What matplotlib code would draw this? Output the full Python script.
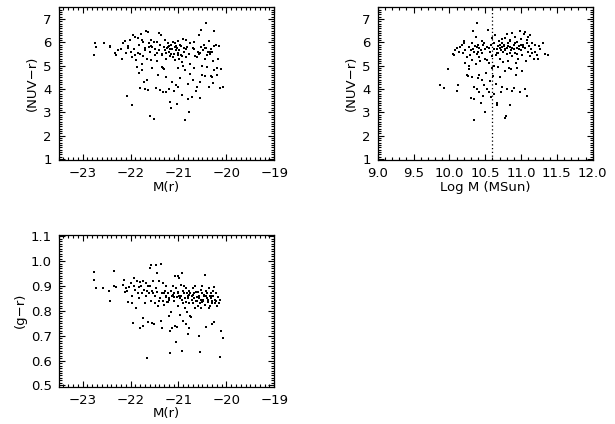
import numpy as np
import matplotlib
matplotlib.use("Agg")
import matplotlib.pyplot as plt
from matplotlib.ticker import AutoMinorLocator, FormatStrFormatter

# ── Panel 1: (NUV-r) vs M(r) ─────────────────────────────────────────────────
mr_nuv = [
    -22.77, -22.75, -22.72, -22.55, -22.43, -22.42, -22.33, -22.30, -22.27,
    -22.20, -22.18, -22.15, -22.12, -22.10, -22.08, -22.05, -22.02, -22.00, -21.97, -21.98,
    -21.95, -21.93, -21.90, -21.88, -21.86, -21.85, -21.83, -21.82, -21.80, -21.80,
    -21.78, -21.77, -21.75, -21.76, -21.77,
    -21.73, -21.72, -21.70, -21.70, -21.68, -21.66, -21.65, -21.64, -21.63, -21.62,
    -21.60, -21.60, -21.58, -21.57, -21.55, -21.55, -21.52, -21.52, -21.50,
    -21.48, -21.47, -21.45, -21.44, -21.42, -21.40, -21.40, -21.38, -21.36, -21.35,
    -21.34, -21.33, -21.32, -21.30, -21.30, -21.28, -21.27, -21.26, -21.25,
    -21.23, -21.22, -21.20, -21.20, -21.19, -21.18, -21.17, -21.16, -21.15, -21.14,
    -21.13, -21.12, -21.10, -21.10, -21.08, -21.07, -21.06, -21.05, -21.04, -21.03,
    -21.02, -21.00, -21.00, -21.01,
    -20.98, -20.97, -20.96, -20.95, -20.93, -20.92, -20.90, -20.90, -20.88, -20.87,
    -20.86, -20.85, -20.84, -20.82, -20.80, -20.80, -20.78, -20.77, -20.76, -20.75, -20.75,
    -20.72, -20.70, -20.70, -20.68, -20.67, -20.65, -20.63, -20.62, -20.60, -20.58,
    -20.57, -20.55, -20.55, -20.53, -20.52, -20.50, -20.50,
    -20.48, -20.47, -20.45, -20.44, -20.43, -20.42, -20.40, -20.38, -20.37, -20.36,
    -20.35, -20.33, -20.32, -20.30, -20.28, -20.27, -20.26, -20.25, -20.25,
    -20.22, -20.20, -20.18, -20.15, -20.13, -20.12, -20.08, -20.20,
    -21.18, -21.12, -21.05, -20.98, -20.92, -20.88, -21.15, -21.08, -20.95, -21.25,
    -21.22, -21.02, -20.85, -20.62, -20.55, -20.45, -20.40, -20.35, -21.90, -21.70,
    -21.62, -21.45, -21.38, -21.28, -22.05, -21.85, -21.58, -21.35, -20.68, -20.30,
]
nuv_r1 = [
    5.45, 5.97, 5.80, 5.97, 5.85, 5.78, 5.55, 5.45, 5.65,
    5.70, 5.30, 5.95, 6.05, 5.55, 3.70, 5.85, 6.10, 5.60, 3.30, 5.35,
    6.30, 5.70, 6.25, 5.25, 4.95, 6.20, 4.70, 5.90, 5.50, 4.05,
    6.35, 6.10, 5.40, 5.05, 4.80,
    6.00, 4.30, 4.00, 5.75, 6.50, 5.30, 4.40, 3.95, 6.45, 5.95,
    2.85, 5.60, 6.10, 5.25, 5.80, 4.90, 2.70, 6.00, 5.45,
    5.70, 4.05, 6.00, 5.20, 4.60, 6.40, 5.65, 3.95, 6.30, 4.95,
    5.45, 3.85, 4.90, 5.80, 4.85, 6.10, 3.85, 5.30, 4.50,
    5.75, 5.95, 5.60, 4.00, 5.85, 3.45, 5.40, 3.20, 5.90, 5.70,
    4.30, 6.00, 5.50, 3.90, 5.80, 5.95, 4.15, 5.65, 3.35, 5.75,
    4.90, 5.55, 4.10, 6.05,
    5.30, 5.90, 4.45, 5.45, 5.15, 3.75, 6.15, 5.00, 5.60, 2.65,
    4.80, 5.35, 6.10, 5.80, 4.20, 3.55, 5.50, 3.00, 5.05, 4.65, 5.95,
    3.65, 5.75, 4.40, 6.00, 4.90, 5.40, 3.90, 4.10, 5.60, 6.30,
    5.50, 4.30, 3.60, 5.80, 6.55, 5.00, 4.60,
    5.65, 5.90, 5.30, 4.55, 6.85, 5.75, 4.95, 5.60, 4.10, 6.05,
    5.50, 4.55, 5.70, 4.50, 5.20, 4.25, 6.50, 5.85, 4.80,
    5.90, 4.90, 5.30, 5.85, 4.05, 4.85, 4.10, 4.60,
    5.70, 5.35, 5.85, 5.65, 5.40, 5.75, 5.50, 5.25, 5.85, 5.55,
    5.80, 5.45, 5.70, 5.35, 5.55, 5.75, 5.45, 5.60, 5.45, 5.65,
    5.80, 5.55, 5.90, 5.65, 5.75, 5.55, 5.85, 5.50, 5.70, 5.60,
]

# ── Panel 2: (NUV-r) vs Log M ────────────────────────────────────────────────
logm = [
    9.87, 9.93, 9.98, 10.05, 10.06, 10.08, 10.10, 10.10, 10.12, 10.13, 10.15, 10.17,
    10.20, 10.20, 10.19, 10.22, 10.24, 10.25, 10.26, 10.27, 10.28, 10.30, 10.30, 10.31,
    10.32, 10.33, 10.33, 10.34, 10.35, 10.35, 10.36, 10.37, 10.37, 10.38, 10.38, 10.39,
    10.40, 10.40, 10.41, 10.42, 10.42, 10.43, 10.44, 10.45, 10.45, 10.46, 10.47, 10.48,
    10.49, 10.50, 10.50, 10.51, 10.52, 10.53, 10.54, 10.55, 10.56, 10.57, 10.57, 10.58,
    10.58, 10.59, 10.60, 10.60, 10.61, 10.62, 10.63, 10.63, 10.64, 10.65, 10.66, 10.66,
    10.67, 10.68, 10.68, 10.69, 10.70, 10.70, 10.71, 10.72, 10.73, 10.73, 10.74, 10.75,
    10.75, 10.76, 10.77, 10.77, 10.78, 10.78, 10.79, 10.80, 10.80, 10.81, 10.82, 10.82,
    10.83, 10.84, 10.84, 10.85, 10.86, 10.86, 10.87, 10.88, 10.88, 10.90, 10.90, 10.91,
    10.92, 10.93, 10.93, 10.94, 10.95, 10.95, 10.96, 10.97, 10.98, 10.99, 11.00, 11.00,
    11.01, 11.02, 11.03, 11.04, 11.05, 11.05, 11.06, 11.07, 11.08, 11.08, 11.09, 11.10,
    11.10, 11.11, 11.12, 11.13, 11.14, 11.15, 11.16, 11.18, 11.20, 11.20, 11.22, 11.24,
    11.25, 11.27, 11.30, 11.33, 11.38,
    10.22, 10.27, 10.29, 10.32, 10.35, 10.38, 10.41, 10.44, 10.47, 10.50, 10.52, 10.55,
    10.62, 10.65, 10.70, 10.72, 10.80, 10.85, 10.90, 10.95, 11.00,
    10.74, 10.78, 10.82, 10.88, 10.92, 10.97, 11.03, 10.68, 10.76, 10.84, 10.66, 10.40,
]
nuv_r2 = [
    4.15, 4.05, 4.85, 5.50, 5.45, 5.65, 3.90, 5.75, 4.15, 5.60, 5.80, 5.90,
    5.95, 6.05, 5.55, 5.10, 4.60, 5.35, 4.55, 5.00, 4.85, 5.65, 3.60, 5.25,
    4.50, 5.70, 6.50, 4.10, 2.65, 3.55, 5.85, 5.05, 6.25, 4.00, 5.50, 6.85,
    4.45, 5.90, 3.85, 5.75, 4.60, 5.20, 3.40, 6.05, 4.40, 5.55, 3.70, 5.95,
    4.15, 5.30, 3.00, 4.70, 5.80, 4.00, 6.55, 5.10, 3.85, 5.60, 4.35, 5.90,
    3.65, 4.90, 5.40, 6.20, 4.55, 3.80, 5.70, 5.00, 6.30, 4.20, 5.55, 3.30,
    3.40, 5.85, 4.95, 6.05, 5.30, 4.50, 5.75, 3.85, 5.95, 4.10, 6.15, 5.60,
    5.15, 5.85, 4.75, 2.75, 6.20, 5.70, 2.85, 5.50, 6.35, 4.00, 5.95, 5.20,
    4.90, 3.30, 5.80, 6.10, 4.85, 5.65, 6.40, 5.40, 3.90, 5.90, 4.05, 6.25,
    5.55, 5.10, 4.60, 5.75, 6.00, 4.90, 5.30, 5.85, 6.50, 3.85, 5.65, 6.15,
    4.75, 5.45, 5.90, 6.35, 4.00, 5.75, 6.45, 5.20, 5.95, 3.70, 6.10, 5.60,
    6.25, 5.85, 5.40, 6.30, 5.70, 5.55, 5.95, 5.30, 5.60, 5.90, 5.45, 5.30,
    5.85, 5.70, 5.95, 5.50, 5.45,
    5.65, 5.80, 5.45, 5.95, 5.60, 5.80, 5.35, 5.65, 5.90, 5.70, 5.25, 5.75,
    5.95, 5.45, 5.90, 5.65, 5.75, 5.55, 5.70, 5.50, 5.90,
    5.80, 5.65, 5.85, 5.75, 5.95, 5.70, 5.80, 5.55, 5.90, 6.05, 5.70, 5.60,
]

# ── Panel 3: (g-r) vs M(r) ───────────────────────────────────────────────────
mr_gr = [
    -22.77, -22.77, -22.72, -22.57, -22.44, -22.43, -22.35, -22.35, -22.30,
    -22.15, -22.13, -22.12, -22.10, -22.08, -22.05, -22.03, -22.00, -21.98, -21.96, -21.95,
    -21.93, -21.92, -21.90, -21.88, -21.87, -21.85, -21.83, -21.82, -21.80, -21.80,
    -21.78, -21.77, -21.75, -21.74, -21.73, -21.72, -21.70, -21.68, -21.67, -21.65,
    -21.64, -21.63, -21.62, -21.60, -21.60, -21.58, -21.57, -21.56, -21.55, -21.53,
    -21.52, -21.50, -21.48, -21.47, -21.46, -21.45, -21.44, -21.42, -21.40, -21.38,
    -21.37, -21.36, -21.35, -21.34, -21.33, -21.32, -21.30, -21.28, -21.27, -21.25,
    -21.24, -21.22, -21.20, -21.20, -21.18, -21.17, -21.16, -21.15, -21.14, -21.13,
    -21.12, -21.10, -21.10, -21.08, -21.07, -21.06, -21.05, -21.04, -21.03, -21.02,
    -21.00, -21.00, -20.98, -20.97, -20.96, -20.95, -20.94, -20.93, -20.92, -20.91,
    -20.90, -20.90, -20.88, -20.87, -20.86, -20.85, -20.84, -20.83, -20.82, -20.80,
    -20.80, -20.79, -20.78, -20.77, -20.76, -20.75, -20.74, -20.72, -20.70, -20.70,
    -20.68, -20.67, -20.66, -20.65, -20.63, -20.62, -20.60, -20.60, -20.58, -20.57,
    -20.56, -20.55, -20.54, -20.53, -20.52, -20.50, -20.50, -20.48, -20.47, -20.45,
    -20.44, -20.43, -20.42, -20.41, -20.40, -20.38, -20.37, -20.36, -20.35, -20.34,
    -20.33, -20.32, -20.30, -20.30, -20.28, -20.27, -20.26, -20.25, -20.24, -20.22,
    -20.20, -20.18, -20.16, -20.14, -20.13, -20.12, -20.08,
    -21.26, -21.19, -21.11, -21.01, -20.93, -20.85, -20.78, -20.71, -20.64, -20.58,
    -20.51, -20.46, -20.39, -20.31, -20.23, -21.41, -21.31, -21.21, -20.99, -20.89,
    -20.69, -20.61, -20.49, -20.43, -20.29, -20.21, -21.09, -20.81, -21.54, -21.66,
]
g_r = [
    0.955, 0.925, 0.890, 0.890, 0.880, 0.840, 0.960, 0.900, 0.895,
    0.905, 0.925, 0.875, 0.890, 0.880, 0.835, 0.895, 0.910, 0.860, 0.830, 0.750,
    0.930, 0.900, 0.885, 0.810, 0.920, 0.870, 0.895, 0.850, 0.915, 0.730,
    0.900, 0.870, 0.740, 0.920, 0.770, 0.885, 0.830, 0.910, 0.860, 0.610,
    0.900, 0.755, 0.870, 0.970, 0.900, 0.840, 0.985, 0.750, 0.880, 0.920,
    0.745, 0.860, 0.830, 0.985, 0.890, 0.950, 0.875, 0.820, 0.920, 0.850,
    0.760, 0.990, 0.870, 0.730, 0.840, 0.910, 0.825, 0.880, 0.860, 0.900,
    0.835, 0.870, 0.780, 0.850, 0.720, 0.630, 0.880, 0.795, 0.860, 0.730,
    0.900, 0.840, 0.870, 0.940, 0.740, 0.675, 0.890, 0.855, 0.735, 0.940,
    0.870, 0.820, 0.930, 0.850, 0.785, 0.905, 0.860, 0.640, 0.950, 0.830,
    0.880, 0.760, 0.900, 0.850, 0.810, 0.745, 0.890, 0.870, 0.795, 0.860,
    0.705, 0.730, 0.880, 0.830, 0.780, 0.870, 0.775, 0.860, 0.890, 0.830,
    0.850, 0.870, 0.810, 0.900, 0.840, 0.855, 0.820, 0.875, 0.700, 0.860,
    0.635, 0.830, 0.885, 0.845, 0.810, 0.870, 0.900, 0.840, 0.860, 0.825,
    0.945, 0.880, 0.735, 0.850, 0.870, 0.835, 0.810, 0.890, 0.860, 0.820,
    0.870, 0.850, 0.745, 0.840, 0.880, 0.860, 0.755, 0.895, 0.830, 0.870,
    0.820, 0.855, 0.830, 0.845, 0.615, 0.720, 0.690,
    0.855, 0.845, 0.865, 0.875, 0.845, 0.835, 0.865, 0.845, 0.875, 0.850,
    0.835, 0.865, 0.845, 0.860, 0.845, 0.840, 0.870, 0.835, 0.860, 0.870,
    0.865, 0.840, 0.845, 0.860, 0.830, 0.840, 0.855, 0.850, 0.870, 0.880,
]

MSTAR_CUT = 10.6

plt.rcParams["font.family"] = "DejaVu Sans"
plt.rcParams["font.size"] = 9.5

fig = plt.figure(figsize=(6.15, 4.24), dpi=100)
ax1 = fig.add_axes([0.0954, 0.6226, 0.3506, 0.360])
ax2 = fig.add_axes([0.6141, 0.6226, 0.3496, 0.360])
ax3 = fig.add_axes([0.0954, 0.0880, 0.3506, 0.358])


def style(ax, nx, ny):
    ax.xaxis.set_minor_locator(AutoMinorLocator(nx))
    ax.yaxis.set_minor_locator(AutoMinorLocator(ny))
    ax.tick_params(which="both", direction="in", top=True, right=True,
                   width=0.8, colors="black")
    ax.tick_params(which="major", length=4, pad=5)
    ax.tick_params(which="minor", length=2)
    for s in ax.spines.values():
        s.set_linewidth(0.9)


ax1.scatter(mr_nuv, nuv_r1, s=3, c="black", marker="s", linewidths=0)
ax1.set_xlim(-23.5, -19)
ax1.set_ylim(0.95, 7.5)
ax1.set_xticks([-23, -22, -21, -20, -19])
ax1.set_yticks([1, 2, 3, 4, 5, 6, 7])
ax1.set_xlabel("M(r)", labelpad=1)
ax1.set_ylabel("(NUV\u2212r)", labelpad=3)
style(ax1, 10, 10)

ax2.scatter(logm, nuv_r2, s=3, c="black", marker="s", linewidths=0)
ax2.axvline(MSTAR_CUT, color="black", linestyle=(0, (1, 2)), linewidth=0.9)
ax2.set_xlim(9.0, 12.0)
ax2.set_ylim(0.95, 7.5)
ax2.set_xticks(np.arange(9.0, 12.01, 0.5))
ax2.xaxis.set_major_formatter(FormatStrFormatter("%.1f"))
ax2.set_yticks([1, 2, 3, 4, 5, 6, 7])
ax2.set_xlabel("Log M (MSun)", labelpad=1)
ax2.set_ylabel("(NUV\u2212r)", labelpad=3)
style(ax2, 5, 10)

ax3.scatter(mr_gr, g_r, s=3, c="black", marker="s", linewidths=0)
ax3.set_xlim(-23.5, -19)
ax3.set_ylim(0.495, 1.105)
ax3.set_xticks([-23, -22, -21, -20, -19])
ax3.set_yticks(np.arange(0.5, 1.101, 0.1))
ax3.yaxis.set_major_formatter(FormatStrFormatter("%.1f"))
ax3.set_xlabel("M(r)", labelpad=0)
ax3.set_ylabel("(g\u2212r)", labelpad=3)
style(ax3, 10, 10)

fig.savefig("out.png", dpi=100, facecolor="white")
